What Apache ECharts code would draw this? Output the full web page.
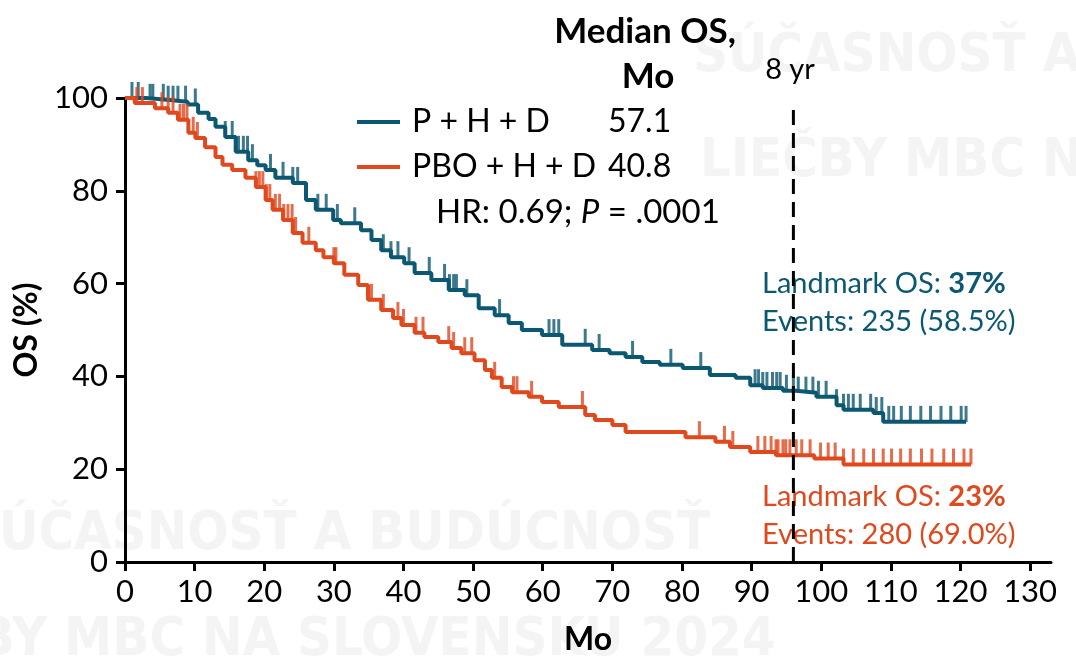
<!DOCTYPE html>
<html>
<head>
<meta charset="utf-8">
<script src="https://cdn.jsdelivr.net/npm/echarts@6/dist/echarts.min.js"></script>
<style>
  html, body { margin: 0; padding: 0; background: #fff; }
  #main { width: 1076px; height: 664px; }
</style>
</head>
<body>
<div id="main"></div>
<script>
// KM curves: [month, OS %]
var pertuzumabKM = [[0,100],[3,99.6],[6,99.2],[9,98.6],[10.5,96.8],[12,95.5],[13,93.8],[14.4,91.6],[15.9,88.4],[17.7,86.6],[19,85.5],[20.2,84.5],[21.6,82.8],[24.1,81.7],[26,78],[27.4,75.9],[29.9,73.7],[31,73],[33.9,71.5],[35.4,69.4],[36.8,67.2],[38.2,65.7],[40.1,64.4],[41.6,62.3],[44,60.8],[46.5,58.6],[48.8,57.5],[50.8,54.7],[53.1,53.2],[55.1,51.5],[57,50],[59.9,48.9],[62.8,46.8],[67.1,45.7],[69.6,45],[71.9,44.2],[74.3,43.1],[76.8,42.5],[80.1,41.8],[84,40.3],[87.7,39.7],[89.8,38.1],[91.6,37.5],[94.5,36.9],[96.4,36.5],[99.3,35.6],[102.2,33.8],[103.2,32.8],[107.5,32.1],[108.9,30.2],[120.8,30.2]];
var placeboKM = [[0,100],[1.4,98.9],[4.3,97.8],[6.2,96.8],[7.6,95.3],[9.1,92.5],[10.1,91.4],[11.5,89.4],[13,87.3],[14,85.6],[15.4,84.5],[17.3,82.8],[18.8,80.8],[20.2,78],[21.2,75.9],[22.7,73.7],[24.1,70.9],[25.5,68.8],[27.4,67.2],[28.5,65.7],[30,64.4],[31.5,61.9],[33.5,59.7],[34.9,56.5],[36.8,54.3],[38.5,52.6],[39.7,51.1],[41.6,49.4],[43,48.5],[45,47.4],[46.9,46.1],[48.3,45],[50.2,43.5],[51.7,41.4],[52.7,39.7],[54.1,37.7],[55.6,36.6],[58,35.6],[59.9,34.5],[62.3,33.4],[66.1,31.7],[67.5,30.6],[70,29.5],[71.9,28],[80.5,26.9],[84.8,25.9],[86.9,24.8],[89.8,23.7],[93.5,23],[99,22.3],[103.2,21],[121.5,21]];

// censored times (months)
var pertuzumabCensor = [1,1.9,3.6,4,5.5,6.2,6.9,7.6,8.7,10.1,14.4,15.4,16.3,17,17.6,18.3,20.9,22.7,24.1,24.8,27.7,28.9,30.5,33,37.1,38.2,39.2,40.8,43.7,45.9,46.6,47.2,47.6,49.1,53.8,60.9,61.6,62.3,66.1,68.1,72.9,78.4,82.7,90.5,91,91.6,92.2,93,93.6,94.1,95,96,96.7,97.8,98.8,99.6,100.7,102.2,103.2,103.9,104.6,105.6,107.1,107.9,108.7,109.7,110.4,111.5,112.8,114.3,115.7,117.2,118.6,120.1,120.8];
var placeboCensor = [1.7,2.5,5.3,6.2,6.9,7.9,8.4,8.9,9.8,10.4,18.8,19.3,19.8,20.3,20.8,21.6,22.2,22.8,23.4,24,24.5,26.4,30,30.3,35.4,37.1,39.2,40,41.8,42.8,46.5,47.2,48.8,49.8,53.1,55.8,56.3,58.4,65.7,82.5,86.1,87.3,90.9,91.9,92.8,93.5,93.8,94.5,94.9,95.5,96.4,97.2,98.4,99.9,101,102,103.2,104.6,106.1,107.5,108.9,110.1,111.4,112.8,114.4,115.9,117.6,119,120.5,121.5];

var seriesNames = ['P + H + D', 'PBO + H + D'];
var medianOS = ['57.1', '40.8'];
var landmarkMonth = 96;
var xTicks = [0,10,20,30,40,50,60,70,80,90,100,110,120,130];
var yTicks = [0,20,40,60,80,100];

var BLUE = '#0b5872';
var ORANGE = '#e0481e';
var FONT = 'Lato';

function survAt(km, t) {
  var s = km[0][1];
  for (var i = 0; i < km.length; i++) {
    if (km[i][0] <= t) s = km[i][1];
  }
  return s;
}
function censorPoints(km, times) {
  return times.map(function (t) { return [t, survAt(km, t)]; });
}

var chart = echarts.init(document.getElementById('main'));

var tickSym = {
  type: 'scatter',
  symbol: 'rect',
  symbolSize: [3, 16],
  symbolOffset: [0, -8],
  silent: true
};

// faint background watermark
var wm = {fill: '#f4f4f4', font: 'bold 54px "DejaVu Sans Condensed", Roboto'};

var option = {
  animation: false,
  textStyle: {fontFamily: FONT},
  grid: {left: 125, right: 25, top: 98, bottom: 102},
  xAxis: {
    type: 'value',
    min: 0,
    max: 133,
    name: 'Mo',
    nameLocation: 'middle',
    nameGap: 62,
    nameTextStyle: {fontSize: 32, fontWeight: 'bold', color: '#000', fontFamily: FONT},
    axisLine: {lineStyle: {color: '#000', width: 3}},
    axisTick: {customValues: xTicks, length: 9, lineStyle: {width: 3, color: '#000'}},
    axisLabel: {customValues: xTicks, fontSize: 31, color: '#000', margin: 14, fontFamily: FONT},
    splitLine: {show: false}
  },
  yAxis: {
    type: 'value',
    min: 0,
    max: 100,
    name: 'OS (%)',
    nameLocation: 'middle',
    nameGap: 76,
    nameRotate: 90,
    nameTextStyle: {fontSize: 32, fontWeight: 'bold', color: '#000', fontFamily: FONT},
    axisLine: {show: true, lineStyle: {color: '#000', width: 3}},
    axisTick: {show: true, customValues: yTicks, length: 9, lineStyle: {width: 3, color: '#000'}},
    axisLabel: {customValues: yTicks, fontSize: 31, color: '#000', margin: 17, fontFamily: FONT},
    splitLine: {show: false}
  },
  legend: {
    data: seriesNames,
    orient: 'vertical',
    left: 352,
    top: 97,
    icon: 'rect',
    itemWidth: 43,
    itemHeight: 4,
    itemGap: 5,
    selectedMode: false,
    formatter: function (name) {
      return '{n|' + name + '}{v|' + medianOS[seriesNames.indexOf(name)] + '}';
    },
    textStyle: {
      color: '#000',
      fontFamily: FONT,
      fontSize: 32,
      lineHeight: 40,
      rich: {
        n: {fontSize: 32, fontFamily: FONT, color: '#000', width: 196, padding: [0, 0, 0, 7]},
        v: {fontSize: 32, fontFamily: FONT, color: '#000'}
      }
    }
  },
  graphic: [
    {type: 'text', left: 693, top: 30, silent: true, style: {text: 'SÚČASNOSŤ A BUDÚCNOSŤ', fill: wm.fill, font: wm.font}},
    {type: 'text', left: 700, top: 135, silent: true, style: {text: 'LIEČBY MBC NA SLOVENSKU 2024', fill: wm.fill, font: wm.font}},
    {type: 'text', left: -36, top: 508, silent: true, style: {text: 'SÚČASNOSŤ A BUDÚCNOSŤ', fill: wm.fill, font: wm.font}},
    {type: 'text', left: -140, top: 614, silent: true, style: {text: 'LIEČBY MBC NA SLOVENSKU 2024', fill: wm.fill, font: wm.font}},

    {type: 'text', x: 645, y: 32, style: {text: 'Median OS,', fill: '#000', font: 'bold 35px ' + FONT, align: 'center', verticalAlign: 'middle'}},
    {type: 'text', x: 648, y: 77, style: {text: 'Mo', fill: '#000', font: 'bold 35px ' + FONT, align: 'center', verticalAlign: 'middle'}},
    {type: 'text', x: 436, y: 212, style: {
      text: '{a|HR: 0.69; }{b|P}{a| = .0001}', verticalAlign: 'middle',
      rich: {a: {fontSize: 33, fontFamily: FONT, fill: '#000'}, b: {fontSize: 33, fontFamily: FONT, fontStyle: 'italic', fill: '#000'}}
    }},
    {type: 'text', x: 790, y: 70, style: {text: '8 yr', fill: '#000', font: '29px ' + FONT, align: 'center', verticalAlign: 'middle'}},
    {type: 'text', x: 762, y: 284, style: {
      text: '{a|Landmark OS: }{b|37%}', verticalAlign: 'middle',
      rich: {a: {fontSize: 29, fontFamily: FONT, fill: BLUE}, b: {fontSize: 29, fontFamily: FONT, fontWeight: 'bold', fill: BLUE}}
    }},
    {type: 'text', x: 762, y: 322, style: {text: 'Events: 235 (58.5%)', fill: BLUE, font: '29px ' + FONT, verticalAlign: 'middle'}},
    {type: 'text', x: 762, y: 497, style: {
      text: '{a|Landmark OS: }{b|23%}', verticalAlign: 'middle',
      rich: {a: {fontSize: 29, fontFamily: FONT, fill: ORANGE}, b: {fontSize: 29, fontFamily: FONT, fontWeight: 'bold', fill: ORANGE}}
    }},
    {type: 'text', x: 762, y: 535, style: {text: 'Events: 280 (69.0%)', fill: ORANGE, font: '29px ' + FONT, verticalAlign: 'middle'}}
  ],
  series: [
    {
      name: seriesNames[0],
      type: 'line',
      step: 'end',
      showSymbol: false,
      symbol: 'none',
      color: BLUE,
      lineStyle: {width: 4, color: BLUE},
      data: pertuzumabKM,
      z: 3
    },
    Object.assign({}, tickSym, {
      name: 'censor-p',
      itemStyle: {color: BLUE},
      data: censorPoints(pertuzumabKM, pertuzumabCensor),
      z: 3
    }),
    {
      name: seriesNames[1],
      type: 'line',
      step: 'end',
      showSymbol: false,
      symbol: 'none',
      color: ORANGE,
      lineStyle: {width: 4, color: ORANGE},
      data: placeboKM,
      z: 4
    },
    Object.assign({}, tickSym, {
      name: 'censor-pbo',
      itemStyle: {color: ORANGE},
      data: censorPoints(placeboKM, placeboCensor),
      z: 4
    }),
    {
      name: '8 yr',
      type: 'line',
      symbol: 'none',
      silent: true,
      lineStyle: {color: '#000', width: 3, type: [15, 8]},
      data: [[landmarkMonth, 0], [landmarkMonth, 99]],
      z: 5
    }
  ]
};

chart.setOption(option);
</script>
</body>
</html>
